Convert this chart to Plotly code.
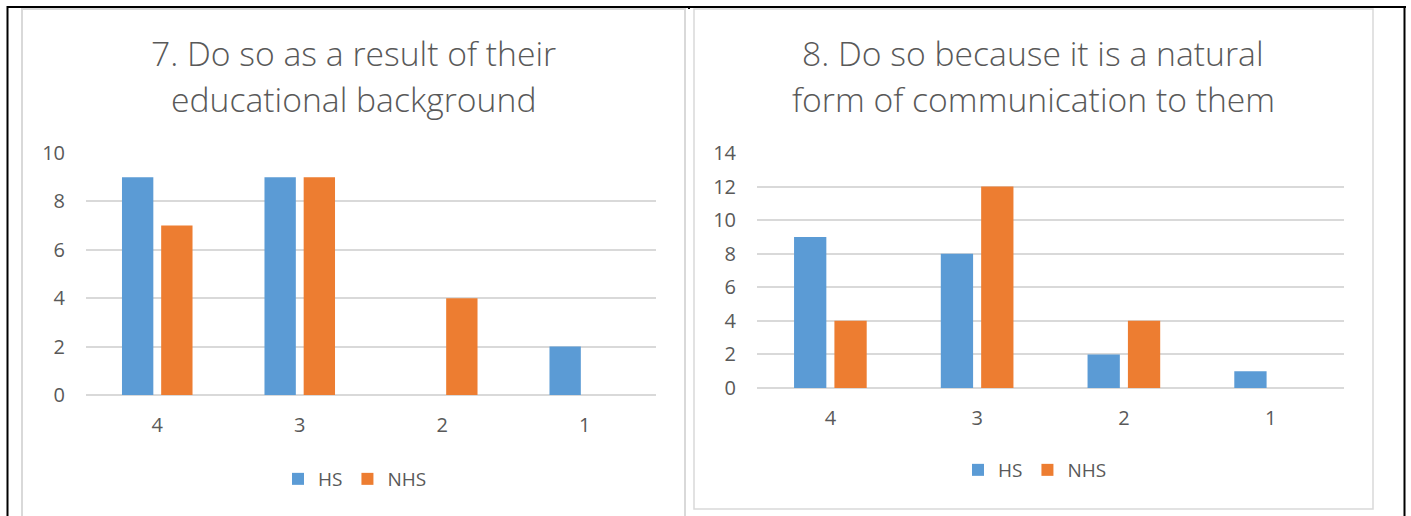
import plotly.graph_objects as go

W, H = 1411, 516

categories = ["4", "3", "2", "1"]
series_names = ["HS", "NHS"]
chart1_title = ["7. Do so as a result of their", "educational background"]
chart1_hs = [9, 9, 0, 2]
chart1_nhs = [7, 9, 4, 0]
chart2_title = ["8. Do so because it is a natural", "form of communication to them"]
chart2_hs = [9, 8, 2, 1]
chart2_nhs = [4, 12, 4, 0]
chart1_yticks = [0, 2, 4, 6, 8, 10]
chart2_yticks = [0, 2, 4, 6, 8, 10, 12, 14]

BLUE = "#5B9BD5"
ORANGE = "#ED7D31"
TXT = "#595959"
GRID = "#D9D9D9"
FONT = "Open Sans"


def px(x):
    return x / W


def py(y):
    return 1 - y / H


fig = go.Figure()
fig.add_trace(go.Bar(x=categories, y=chart1_hs, name=series_names[0], marker_color=BLUE,
                     xaxis="x", yaxis="y", legend="legend"))
fig.add_trace(go.Bar(x=categories, y=chart1_nhs, name=series_names[1], marker_color=ORANGE,
                     xaxis="x", yaxis="y", legend="legend"))
fig.add_trace(go.Bar(x=categories, y=chart2_hs, name=series_names[0], marker_color=BLUE,
                     xaxis="x2", yaxis="y2", legend="legend2"))
fig.add_trace(go.Bar(x=categories, y=chart2_nhs, name=series_names[1], marker_color=ORANGE,
                     xaxis="x2", yaxis="y2", legend="legend2"))
fig.update_traces(marker_line_width=0, hoverinfo="skip")

xcommon = dict(type="category", showgrid=False, showline=False, zeroline=False,
               ticks="", tickfont=dict(family=FONT, size=20, color=TXT),
               ticklabelstandoff=16, automargin=False)
ycommon = dict(showgrid=True, gridcolor=GRID, gridwidth=1.5, zeroline=True,
               zerolinecolor=GRID, zerolinewidth=1.5, showline=False, ticks="",
               tickfont=dict(family=FONT, size=20, color=TXT), ticklabelstandoff=20,
               automargin=False)

shapes = []
# table black borders
for (x0, y0, x1, y1) in [(7, 6, 1406, 8), (6.5, 6, 8.5, 516), (1403.5, 6, 1405.5, 516), (688, 6, 690, 9)]:
    shapes.append(dict(type="rect", xref="paper", yref="paper", x0=px(x0), x1=px(x1),
                       y0=py(y1), y1=py(y0), fillcolor="black", line_width=0, layer="above"))
# chart frames
shapes.append(dict(type="rect", xref="paper", yref="paper", x0=px(22), x1=px(685),
                   y0=py(530), y1=py(9), line=dict(color="#D9D9D9", width=2), fillcolor="rgba(0,0,0,0)"))
shapes.append(dict(type="rect", xref="paper", yref="paper", x0=px(694), x1=px(1373),
                   y0=py(509), y1=py(9), line=dict(color="#D9D9D9", width=1.5), fillcolor="rgba(0,0,0,0)"))

annotations = []
for cx, lines in [(353.5, chart1_title), (1033, chart2_title)]:
    for i, t in enumerate(lines):
        annotations.append(dict(text=t, xref="paper", yref="paper", x=px(cx), y=py(53 + 46 * i),
                                xanchor="center", yanchor="middle", showarrow=False,
                                font=dict(family=FONT, size=33.7, color=TXT, weight=300)))

legfont = dict(family=FONT, size=19, color=TXT)
fig.update_layout(
    template="none",
    width=W, height=H, margin=dict(l=0, r=0, t=0, b=0, pad=0, autoexpand=False),
    paper_bgcolor="white", plot_bgcolor="white",
    barmode="group", bargap=0.45, bargroupgap=0.2,
    xaxis=dict(domain=[px(86), px(656)], anchor="y", **xcommon),
    yaxis=dict(domain=[py(395), py(153)], anchor="x", range=[0, 10], tickvals=chart1_yticks, **ycommon),
    xaxis2=dict(domain=[px(757), px(1344)], anchor="y2", **xcommon),
    yaxis2=dict(domain=[py(388), py(153)], anchor="x2", range=[0, 14], tickvals=chart2_yticks, **ycommon),
    legend=dict(orientation="h", x=px(355), y=py(479), xanchor="center", yanchor="middle",
                font=legfont, itemwidth=30, bgcolor="rgba(0,0,0,0)"),
    legend2=dict(orientation="h", x=px(1035), y=py(470), xanchor="center", yanchor="middle",
                 font=legfont, itemwidth=30, bgcolor="rgba(0,0,0,0)"),
    shapes=shapes, annotations=annotations, showlegend=True,
)

fig.write_html("out.html")
